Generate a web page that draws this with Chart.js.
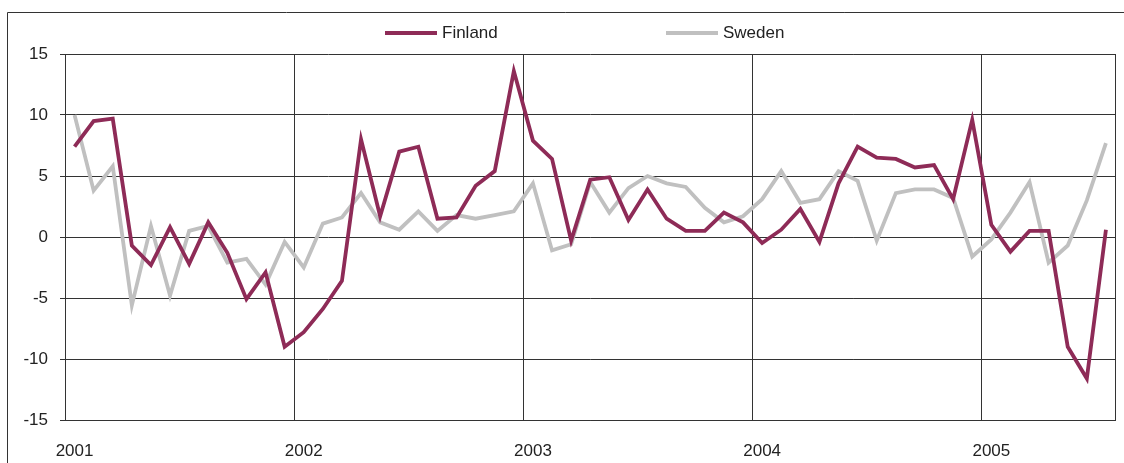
<!DOCTYPE html>
<html>
<head>
<meta charset="utf-8">
<script src="https://cdn.jsdelivr.net/npm/chart.js@4"></script>
<style>
  html, body { margin: 0; padding: 0; background: #fff; }
  canvas { display: block; }
</style>
</head>
<body>
<canvas id="grafico" width="1124" height="463"></canvas>
<script>
const anos = ['2001', '2002', '2003', '2004', '2005'];
const meses = ['01','02','03','04','05','06','07','08','09','10','11','12'];

// Jan 2001 - Jul 2005
const categorias = [];
anos.forEach(a => meses.forEach(m => categorias.push(a + '-' + m)));
categorias.length = 55;

const finland = [
    7.4, 9.5, 9.7, -0.7, -2.3, 0.8, -2.2, 1.2, -1.3, -5.1, -2.9, -9.0,
    -7.8, -5.9, -3.6, 8.0, 1.7, 7.0, 7.4, 1.5, 1.6, 4.2, 5.4, 13.6,
    7.9, 6.4, -0.3, 4.7, 4.9, 1.4, 3.9, 1.5, 0.5, 0.5, 2.0, 1.2,
    -0.5, 0.6, 2.3, -0.4, 4.4, 7.4, 6.5, 6.4, 5.7, 5.9, 3.1, 9.6,
    1.0, -1.2, 0.5, 0.5, -9.0, -11.6, 0.6
];

const sweden = [
    10.0, 3.8, 5.8, -5.6, 0.9, -4.8, 0.5, 0.9, -2.1, -1.8, -3.9, -0.4,
    -2.5, 1.1, 1.6, 3.6, 1.2, 0.6, 2.1, 0.5, 1.8, 1.5, 1.8, 2.1,
    4.4, -1.1, -0.6, 4.5, 2.0, 4.0, 5.0, 4.4, 4.1, 2.4, 1.2, 1.7,
    3.1, 5.4, 2.8, 3.1, 5.4, 4.6, -0.3, 3.6, 3.9, 3.9, 3.2, -1.6,
    -0.2, 2.0, 4.5, -2.1, -0.7, 3.0, 7.7
];

const fonte = '"Liberation Sans", Arial, sans-serif';
const corTexto = '#222';
const corGrade = '#333';

// moldura externa + legenda desenhadas a mao
const molduraLegenda = {
    id: 'molduraLegenda',
    afterDraw(chart) {
        const ctx = chart.ctx;
        ctx.save();
        ctx.strokeStyle = corGrade;
        ctx.lineWidth = 1;
        ctx.beginPath();
        ctx.moveTo(7.5, 463);
        ctx.lineTo(7.5, 12.5);
        ctx.lineTo(1124, 12.5);
        ctx.stroke();

        const posicoes = [385, 666];
        ctx.font = '17px ' + fonte;
        ctx.textBaseline = 'middle';
        chart.data.datasets.forEach((ds, i) => {
            const x = posicoes[i];
            ctx.strokeStyle = ds.borderColor;
            ctx.lineWidth = 4;
            ctx.beginPath();
            ctx.moveTo(x, 33);
            ctx.lineTo(x + 52, 33);
            ctx.stroke();
            ctx.fillStyle = corTexto;
            ctx.fillText(ds.label, x + 57, 33);
        });
        ctx.restore();
    }
};

const dataGrafico = {
    labels: categorias,
    datasets: [
        {
            label: 'Finland',
            data: finland,
            borderColor: '#8E2B57',
            backgroundColor: '#8E2B57',
            borderWidth: 3.8,
            pointRadius: 0,
            tension: 0
        },
        {
            label: 'Sweden',
            data: sweden,
            borderColor: '#C0C0C0',
            backgroundColor: '#C0C0C0',
            borderWidth: 3.8,
            pointRadius: 0,
            tension: 0
        }
    ]
};

const configGrafico = {
    type: 'line',
    data: dataGrafico,
    options: {
        responsive: false,
        animation: false,
        layout: {
            padding: { top: 54, right: 8, left: 0, bottom: 0 }
        },
        plugins: {
            legend: { display: false },
            tooltip: { enabled: false }
        },
        scales: {
            x: {
                offset: true,
                grid: {
                    offset: true,
                    drawTicks: false,
                    lineWidth: 1,
                    color: c => (c.index === undefined || c.index % 12 === 0) ? corGrade : 'rgba(0,0,0,0)'
                },
                border: { display: true, color: corGrade },
                ticks: {
                    autoSkip: false,
                    maxRotation: 0,
                    padding: 18,
                    color: corTexto,
                    font: { family: fonte, size: 17, lineHeight: 1.55 },
                    callback: function (v, i) {
                        return i % 12 === 0 ? categorias[i].slice(0, 4) : '';
                    }
                },
                afterFit: s => { s.height = 43; }
            },
            y: {
                min: -15,
                max: 15,
                ticks: {
                    stepSize: 5,
                    padding: 12,
                    color: corTexto,
                    font: { family: fonte, size: 17 }
                },
                grid: {
                    color: corGrade,
                    lineWidth: 1,
                    tickLength: 5
                },
                border: { display: true, color: corGrade },
                afterFit: s => { s.width = 65; }
            }
        }
    },
    plugins: [molduraLegenda]
};

const instanciaGrafico = new Chart(document.getElementById('grafico'), configGrafico);
</script>
</body>
</html>
